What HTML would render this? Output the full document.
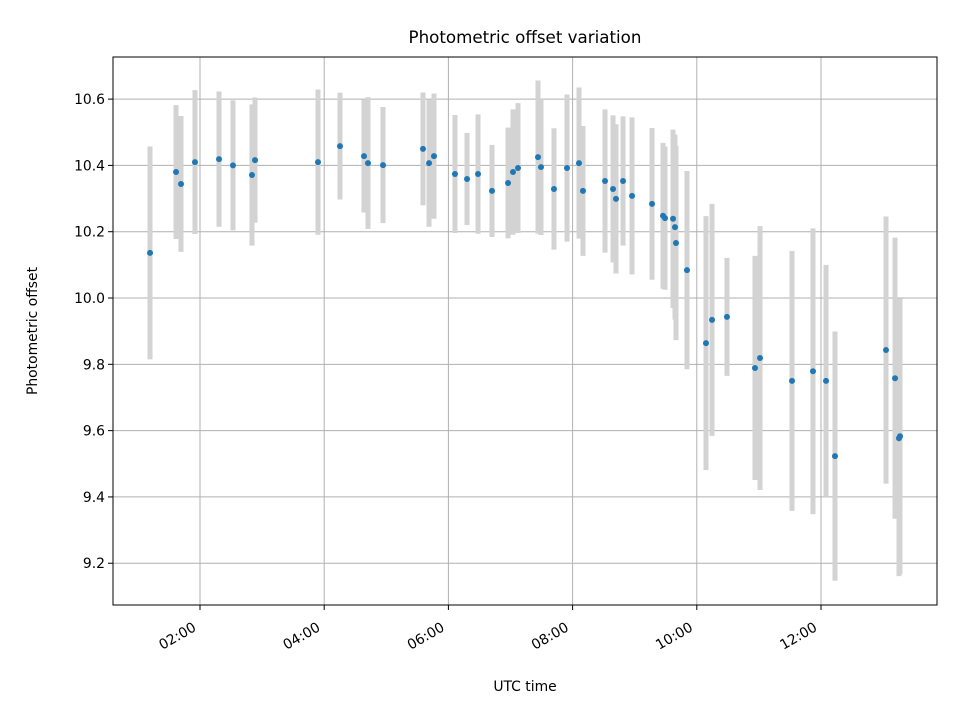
<!DOCTYPE html>
<html><head><meta charset="utf-8"><style>
body{margin:0;background:#fff}
svg{display:block;font-family:"DejaVu Sans","Liberation Sans",sans-serif}
</style></head><body>
<svg id="chart" width="960" height="720">
<rect width="960" height="720" fill="#fff"/>
<text x="525" y="43" text-anchor="middle" font-size="16.7px" fill="#000">Photometric offset variation</text>
<text x="525" y="691" text-anchor="middle" font-size="13.9px" fill="#000">UTC time</text>
<text transform="translate(37,331) rotate(-90)" text-anchor="middle" font-size="13.9px" fill="#000">Photometric offset</text>
<g id="grid"></g><g id="bars"></g><g id="pts"></g><g id="axes"></g>
</svg>
<script>
const timesH=[1.195,1.614,1.694,1.919,2.306,2.531,2.837,2.886,3.900,4.254,4.641,4.705,4.947,5.591,5.688,5.768,6.106,6.300,6.477,6.702,6.960,7.040,7.121,7.443,7.491,7.700,7.910,8.103,8.167,8.522,8.651,8.699,8.812,8.957,9.279,9.456,9.488,9.617,9.649,9.665,9.842,10.148,10.245,10.486,10.937,11.018,11.533,11.871,12.081,12.225,13.047,13.192,13.256,13.272];
const offsets=[10.136,10.380,10.344,10.410,10.419,10.400,10.371,10.416,10.410,10.458,10.428,10.407,10.401,10.450,10.407,10.428,10.374,10.359,10.374,10.323,10.347,10.380,10.392,10.425,10.395,10.329,10.392,10.407,10.323,10.353,10.329,10.299,10.353,10.308,10.284,10.248,10.241,10.239,10.214,10.166,10.084,9.864,9.934,9.943,9.789,9.819,9.750,9.779,9.750,9.523,9.843,9.758,9.577,9.583];
const errors=[0.321,0.202,0.205,0.217,0.204,0.196,0.213,0.189,0.219,0.161,0.170,0.199,0.175,0.170,0.192,0.189,0.178,0.139,0.180,0.139,0.167,0.189,0.196,0.231,0.205,0.183,0.222,0.228,0.196,0.216,0.222,0.225,0.195,0.237,0.229,0.220,0.216,0.269,0.279,0.293,0.299,0.383,0.350,0.178,0.338,0.398,0.392,0.431,0.350,0.376,0.403,0.424,0.416,0.416];
const xTicks=[2,4,6,8,10,12];
const xTickLabels=["02:00","04:00","06:00","08:00","10:00","12:00"];
const yTicks=[9.2,9.4,9.6,9.8,10.0,10.2,10.4,10.6];
const yTickLabels=["9.2","9.4","9.6","9.8","10.0","10.2","10.4","10.6"];
const L=113,R=937,T=57,B=605,xMin=0.599,xMax=13.868,yMin=9.074,yMax=10.727;
const X=h=>L+(h-xMin)/(xMax-xMin)*(R-L);
const Y=v=>B-(v-yMin)/(yMax-yMin)*(B-T);
const NS="http://www.w3.org/2000/svg";
function mk(tag,attrs,parent){const e=document.createElementNS(NS,tag);for(const k in attrs)e.setAttribute(k,attrs[k]);document.getElementById(parent).appendChild(e);return e;}
xTicks.forEach((t,i)=>{
 const g=mk('line',{x1:X(t),x2:X(t),y1:T,y2:B,stroke:'#b0b0b0','stroke-width':1},'grid');
 
 
 const tk=mk('line',{x1:X(t),x2:X(t),y1:B,y2:B+5,stroke:'#000','stroke-width':1},'axes');
 
 
 const lb=mk('text',{transform:`translate(${X(t)-3},${B+25}) rotate(-30)`,'text-anchor':'end','font-size':'13.9px',fill:'#000'},'axes');
 lb.textContent=xTickLabels[i];
 
 
});
yTicks.forEach((t,i)=>{
 const g=mk('line',{x1:L,x2:R,y1:Y(t),y2:Y(t),stroke:'#b0b0b0','stroke-width':1},'grid');
 
 
 const tk=mk('line',{x1:L-5,x2:L,y1:Y(t),y2:Y(t),stroke:'#000','stroke-width':1},'axes');
 
 
 const lb=mk('text',{x:L-8,y:Y(t)+5,'text-anchor':'end','font-size':'13.9px',fill:'#000'},'axes');
 lb.textContent=yTickLabels[i];
 
 
});
timesH.forEach((h,i)=>{
 const b=mk('line',{x1:X(h),x2:X(h),y1:Y(offsets[i]+errors[i]),y2:Y(offsets[i]-errors[i]),stroke:'#d3d3d3','stroke-width':5},'bars');
 
 
 const p=mk('circle',{cx:X(h),cy:Y(offsets[i]),r:3,fill:'#1f77b4'},'pts');
 
 
});
const fr=mk('rect',{x:L,y:T,width:R-L,height:B-T,fill:'none',stroke:'#000','stroke-width':1},'axes');


</script>
</body></html>
